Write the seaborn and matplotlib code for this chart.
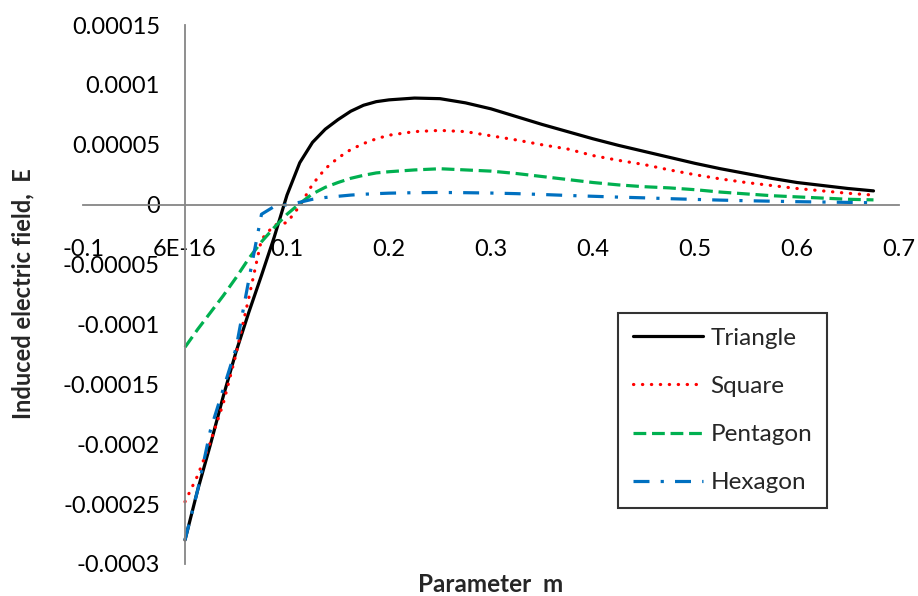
import pandas as pd
import matplotlib
matplotlib.use("Agg")
import matplotlib.pyplot as plt
import seaborn as sns

# parameter m (shared by all four curves)
m_vals = [0, 0.0125, 0.025, 0.0375, 0.05, 0.0625, 0.075, 0.0875, 0.1, 0.1125,
          0.125, 0.1375, 0.15, 0.1625, 0.175, 0.1875, 0.2, 0.225, 0.25, 0.275,
          0.3, 0.325, 0.35, 0.375, 0.4, 0.425, 0.45, 0.475, 0.5, 0.525,
          0.55, 0.575, 0.6, 0.625, 0.65, 0.675]

triangle = [-2.8e-4, -2.38e-4, -2.0e-4, -1.6e-4, -1.23e-4, -9.0e-5, -5.9e-5, -2.7e-5, 8e-6, 3.5e-5,
            5.2e-5, 6.3e-5, 7.1e-5, 7.8e-5, 8.3e-5, 8.6e-5, 8.75e-5, 8.9e-5, 8.85e-5, 8.5e-5,
            8.0e-5, 7.35e-5, 6.7e-5, 6.1e-5, 5.5e-5, 4.95e-5, 4.45e-5, 3.95e-5, 3.45e-5, 3.0e-5,
            2.6e-5, 2.2e-5, 1.85e-5, 1.6e-5, 1.35e-5, 1.15e-5]

square = [-2.48e-4, -2.26e-4, -1.98e-4, -1.66e-4, -1.25e-4, -7.8e-5, -2.9e-5, -1.7e-5, -1.5e-5, -1e-6,
          1.7e-5, 3.0e-5, 3.9e-5, 4.6e-5, 5.1e-5, 5.5e-5, 5.8e-5, 6.1e-5, 6.2e-5, 6.1e-5,
          5.75e-5, 5.4e-5, 5.0e-5, 4.65e-5, 4.1e-5, 3.7e-5, 3.35e-5, 2.9e-5, 2.5e-5, 2.15e-5,
          1.85e-5, 1.6e-5, 1.35e-5, 1.15e-5, 9.5e-6, 8e-6]

pentagon = [-1.19e-4, -1.04e-4, -9.0e-5, -7.6e-5, -6.1e-5, -4.5e-5, -3.1e-5, -1.9e-5, -8e-6, 1e-6,
            9e-6, 1.45e-5, 1.85e-5, 2.2e-5, 2.45e-5, 2.65e-5, 2.75e-5, 2.9e-5, 3.0e-5, 2.9e-5,
            2.8e-5, 2.6e-5, 2.35e-5, 2.1e-5, 1.85e-5, 1.65e-5, 1.5e-5, 1.4e-5, 1.25e-5, 1.05e-5,
            9e-6, 7.5e-6, 6.5e-6, 5.5e-6, 4.5e-6, 4e-6]

hexagon = [-2.8e-4, -2.38e-4, -1.88e-4, -1.54e-4, -1.2e-4, -6.3e-5, -8e-6, -1.5e-6, 0, 2e-6,
           4.5e-6, 6e-6, 7e-6, 8e-6, 8.7e-6, 9.2e-6, 9.6e-6, 1.0e-5, 1.02e-5, 1.0e-5,
           9.7e-6, 9.2e-6, 8.5e-6, 7.7e-6, 7e-6, 6.3e-6, 5.7e-6, 5e-6, 4.4e-6, 3.8e-6,
           3.3e-6, 2.9e-6, 2.5e-6, 2.2e-6, 1.9e-6, 1.6e-6]

x_ticks = [-0.1, 0, 0.1, 0.2, 0.3, 0.4, 0.5, 0.6, 0.7]
x_tick_labels = ["-0.1", "6E-16", "0.1", "0.2", "0.3", "0.4", "0.5", "0.6", "0.7"]
y_ticks = [0.00015, 0.0001, 0.00005, 0, -0.00005, -0.0001, -0.00015, -0.0002, -0.00025, -0.0003]
y_tick_labels = ["0.00015", "0.0001", "0.00005", "0", "-0.00005", "-0.0001",
                 "-0.00015", "-0.0002", "-0.00025", "-0.0003"]

sns.set_style("white")
plt.rcParams["font.family"] = ["Lato", "DejaVu Sans"]

df = pd.DataFrame({"m": m_vals, "Triangle": triangle, "Square": square,
                   "Pentagon": pentagon, "Hexagon": hexagon})

fig = plt.figure(figsize=(9.18, 5.96), dpi=100)
ax = fig.add_axes([83 / 918, 1 - 564 / 596, 816 / 918, 539 / 596])

styles = {
    "Triangle": dict(color="black", linestyle="-"),
    "Square": dict(color="#FF0000", linestyle=(0, (0.1, 2.7)), dash_capstyle="round"),
    "Pentagon": dict(color="#00B050", linestyle=(0, (4, 1.8))),
    "Hexagon": dict(color="#0070C0", linestyle=(0, (5, 3.5, 1, 3.5))),
}
for name, st in styles.items():
    sns.lineplot(data=df, x="m", y=name, ax=ax, label=name, linewidth=2.3, **st)

axis_col = "#868686"
ax.set_xlim(-0.1, 0.7)
ax.set_ylim(-0.0003, 0.00015)
ax.spines["left"].set_position(("data", 0))
ax.spines["bottom"].set_position(("data", 0))
ax.spines["top"].set_visible(False)
ax.spines["right"].set_visible(False)
for s in ("left", "bottom"):
    ax.spines[s].set_color(axis_col)
    ax.spines[s].set_linewidth(1.3)

ax.set_xticks(x_ticks)
ax.set_xticklabels(x_tick_labels)
ax.set_yticks(y_ticks)
ax.set_yticklabels(y_tick_labels)
ax.tick_params(axis="both", direction="out", length=5, width=1.3, color=axis_col,
               labelsize=17, labelcolor="black")
ax.tick_params(axis="x", pad=20)
ax.tick_params(axis="y", pad=13)

ax.set_xlabel("")
ax.set_ylabel("")
fig.text(491 / 918, 1 - 585 / 596, "Parameter  m", ha="center", va="center",
         fontsize=17.5, fontweight="bold")
fig.text(23 / 918, 1 - 294 / 596, "Induced electric field,  E", ha="center", va="center",
         rotation=90, fontsize=17, fontweight="bold")

leg = ax.legend(loc="upper left", bbox_to_anchor=(618 / 918, 1 - 313 / 596),
                bbox_transform=fig.transFigure, fontsize=17.5, frameon=True, fancybox=False,
                handlelength=2.9, handletextpad=0.3, labelspacing=1.12,
                borderpad=0.6, borderaxespad=0)
leg.get_frame().set_edgecolor("black")
leg.get_frame().set_linewidth(1.5)

fig.savefig("out.png", dpi=100)
